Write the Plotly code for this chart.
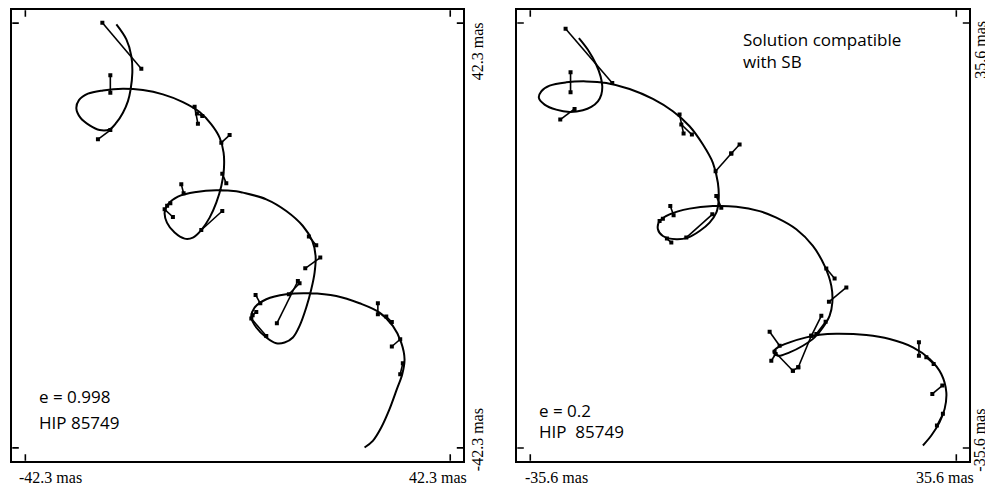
import plotly.graph_objects as go

# ---------------- data (mas) ----------------
tick_left = [-42.3, 42.3]
tick_right = [-35.6, 35.6]

# left panel: e = 0.998 orbit
left_orbit_x = [-24.18, -22.19, -21.20, -21.00, -21.34, -21.87, -22.87, -24.18, -25.52, -27.51,
                -29.50, -31.35, -32.14, -31.63, -29.84, -26.85, -22.87, -18.89, -14.91, -10.93,
                -7.60, -5.27, -3.62, -2.83, -2.77, -3.28, -4.28, -5.61, -7.27, -8.94,
                -10.59, -12.58, -14.11, -14.57, -13.91, -11.92, -8.26, -4.28, -0.30, 1.02,
                5.67, 9.65, 12.96, 14.83, 15.49, 15.29, 14.63, 13.63, 12.30, 10.97,
                9.32, 7.66, 5.67, 3.68, 2.69, 3.34, 5.67, 9.65, 14.29, 19.61,
                24.24, 28.22, 30.87, 32.54, 33.20, 32.74, 31.67, 30.21, 28.56, 26.89, 25.24]
left_orbit_y = [42.04, 39.05, 35.73, 32.42, 29.10, 26.77, 24.46, 22.47, 21.14, 21.00,
                21.93, 23.47, 25.26, 26.97, 28.24, 28.90, 29.24, 28.96, 28.10, 26.57,
                24.58, 22.13, 19.49, 16.50, 13.18, 9.85, 6.55, 3.56, 1.09, -0.42,
                -0.62, 0.58, 2.57, 4.56, 6.21, 7.74, 8.66, 9.00, 8.80, 8.54,
                7.21, 4.88, 1.89, -1.09, -4.08, -7.38, -10.71, -14.35, -18.01, -20.32,
                -21.32, -21.46, -20.32, -18.33, -16.34, -14.35, -12.70, -11.70, -11.50, -12.04,
                -13.50, -15.35, -18.01, -21.32, -24.64, -27.63, -30.61, -34.59, -38.24, -40.90, -42.22]

# left panel residual segments: start (x0, y0) -> end (x1, y1)
left_seg_x0 = [-26.97, -25.38, -27.85, -8.60, -8.14, -3.28, -3.09, -11.25, -14.57, -13.43,
               -7.27, 14.15, 13.43, 7.78, 10.17, 3.54, 2.69, 3.68, 27.89, 29.56, 30.67, 32.86]
left_seg_y0 = [42.38, 31.89, 19.15, 25.66, 24.32, 18.49, 12.32, 10.19, 5.21, 6.41,
               1.09, -0.22, -6.53, -17.48, -11.70, -11.84, -16.54, -15.23, -13.50, -16.14, -22.11, -25.44]
left_seg_x1 = [-19.21, -25.38, -25.38, -7.94, -7.07, -1.63, -2.29, -10.79, -12.92, -14.07,
               -3.09, 15.62, 16.42, 11.96, 12.30, 4.48, 5.67, 2.95, 27.89, 30.67, 32.34, 32.34]
left_seg_y1 = [33.22, 28.44, 21.00, 22.27, 23.79, 20.00, 10.39, 8.40, 3.68, 5.91,
               4.88, -1.95, -4.40, -9.06, -9.51, -13.50, -20.00, -15.88, -15.68, -17.22, -20.66, -27.63]

# right panel: e = 0.2 orbit
right_orbit_x = [-27.48, -25.97, -24.57, -23.85, -23.57, -23.73, -24.30, -25.41, -26.81, -29.03,
                 -31.26, -33.21, -34.16, -33.76, -32.37, -29.58, -26.24, -22.90, -19.00, -15.11,
                 -11.77, -8.98, -6.75, -5.08, -4.25, -4.13, -4.51, -5.63, -7.30, -9.26,
                 -11.20, -13.44, -14.27, -13.99, -12.32, -8.98, -5.08, -1.17, 2.72, 5.52,
                 8.86, 11.63, 13.59, 14.71, 14.88, 14.42, 13.30, 11.92, 9.96, 7.74,
                 5.78, 5.06, 5.78, 7.74, 10.53, 12.75, 15.54, 20.56, 24.45, 28.35,
                 31.14, 33.09, 33.93, 33.65, 32.81, 31.42, 30.02]
right_orbit_y = [33.08, 31.12, 28.61, 26.66, 24.99, 23.60, 22.48, 21.54, 20.98, 20.71,
                 21.09, 21.93, 23.05, 24.15, 25.10, 25.66, 25.82, 25.56, 24.55, 22.88,
                 20.81, 18.30, 15.24, 12.18, 8.84, 5.77, 3.83, 2.16, 0.75, -0.35,
                 -0.64, -0.08, 1.04, 2.42, 3.54, 4.50, 4.93, 4.83, 4.09, 2.99,
                 1.04, -1.75, -5.10, -8.44, -11.22, -13.45, -15.39, -17.07, -18.47, -19.57,
                 -20.14, -19.47, -18.74, -17.90, -17.07, -16.63, -16.46, -16.68, -17.35, -18.74,
                 -20.69, -23.20, -26.26, -29.05, -31.27, -33.51, -35.18]

right_seg_x0 = [-29.70, -28.87, -30.59, -10.65, -10.36, -4.63, -2.01, -4.51, -12.20, -12.77,
                -13.44, -9.53, 13.87, 14.31, 11.37, 12.20, 4.40, 5.23, 4.68, 8.29,
                9.19, 29.35, 30.59, 31.59, 33.36]
right_seg_y0 = [34.63, 27.33, 19.42, 20.26, 18.59, 10.78, 13.74, 6.60, 4.93, -0.52,
                2.82, -0.35, -5.53, -11.11, -16.80, -16.51, -16.13, -19.47, -20.98, -22.65,
                -22.08, -17.90, -20.41, -26.54, -29.88]
right_seg_x1 = [-21.90, -28.87, -28.20, -9.98, -8.59, -2.01, -0.62, -3.68, -11.65, -12.03,
                -13.99, -5.18, 15.26, 17.22, 13.04, 13.76, 6.07, 8.29, 5.40, 9.19,
                11.37, 29.35, 31.81, 33.26, 32.36]
right_seg_y1 = [25.56, 23.98, 21.21, 17.08, 16.91, 13.74, 15.24, 4.66, 3.38, -1.19,
                2.42, 3.54, -7.20, -8.71, -13.45, -14.46, -18.47, -22.65, -19.86, -22.08,
                -16.80, -20.14, -21.53, -25.15, -31.84]

left_notes = ["e = 0.998", "HIP 85749"]
right_notes = ["e = 0.2", "HIP\u00a0 85749"]
right_title = ["Solution compatible", "with SB"]

# ---------------- figure ----------------
# the page body adds an 8px offset; the figure covers the window from (8, 8)
OFF = 8
W, H = 993 - OFF, 489 - OFF


def px_x(p):
    return (p - OFF) / W


def px_y(p):
    return 1 - (p - OFF) / H


fig = go.Figure()


def seg_xy(x0, y0, x1, y1):
    xs, ys = [], []
    for a, b, c, d in zip(x0, y0, x1, y1):
        xs += [a, c, None]
        ys += [b, d, None]
    return xs, ys


for orbit_x, orbit_y, sx0, sy0, sx1, sy1, xa, ya in [
    (left_orbit_x, left_orbit_y, left_seg_x0, left_seg_y0, left_seg_x1, left_seg_y1, "x", "y"),
    (right_orbit_x, right_orbit_y, right_seg_x0, right_seg_y0, right_seg_x1, right_seg_y1, "x2", "y2"),
]:
    fig.add_trace(go.Scatter(x=orbit_x, y=orbit_y, mode="lines",
                             line=dict(color="black", width=2.0, shape="spline", smoothing=1.0),
                             xaxis=xa, yaxis=ya, hoverinfo="skip", showlegend=False))
    sx, sy = seg_xy(sx0, sy0, sx1, sy1)
    fig.add_trace(go.Scatter(x=sx, y=sy, mode="lines+markers",
                             line=dict(color="black", width=1.6),
                             marker=dict(symbol="square", size=4, color="black"),
                             xaxis=xa, yaxis=ya, hoverinfo="skip", showlegend=False))

ydom = [px_y(460.7), px_y(10.3)]
lim_l_x, lim_l_y = 44.9, 44.85
lim_r_x, lim_r_y = 37.77, 37.73

ax_common = dict(showline=True, mirror=True, linecolor="black", linewidth=1.6,
                 showgrid=False, zeroline=False, showticklabels=False, ticks="", fixedrange=True)

fig.update_layout(
    width=W, height=H,
    margin=dict(l=0, r=0, t=0, b=0),
    paper_bgcolor="white", plot_bgcolor="white",
    xaxis=dict(domain=[px_x(12.3), px_x(463.3)], range=[-lim_l_x, lim_l_x], anchor="y", **ax_common),
    yaxis=dict(domain=ydom, range=[-lim_l_y, lim_l_y], anchor="x", **ax_common),
    xaxis2=dict(domain=[px_x(517.3), px_x(969.3)], range=[-lim_r_x, lim_r_x], anchor="y2", **ax_common),
    yaxis2=dict(domain=ydom, range=[-lim_r_y, lim_r_y], anchor="x2", **ax_common),
)

# crossing ticks on all four sides
shapes = []
for ticks, xr, yr in [(tick_left, "x", "y"), (tick_right, "x2", "y2")]:
    lim_x = lim_l_x if xr == "x" else lim_r_x
    lim_y = lim_l_y if yr == "y" else lim_r_y
    for t in ticks:
        for edge in (-lim_y, lim_y):
            shapes.append(dict(type="line", xref=xr, yref=yr, x0=t, x1=t,
                               ysizemode="pixel", yanchor=edge, y0=-6.5, y1=6.5,
                               line=dict(color="black", width=1.6)))
        for edge in (-lim_x, lim_x):
            shapes.append(dict(type="line", xref=xr, yref=yr, y0=t, y1=t,
                               xsizemode="pixel", xanchor=edge, x0=-6.5, x1=6.5,
                               line=dict(color="black", width=1.6)))
fig.update_layout(shapes=shapes)

serif = dict(family="Liberation Serif, Times New Roman, serif", size=16, color="black")
sans = dict(family="Open Sans, Noto Sans, sans-serif", size=17, color="black")

ann = []
# x tick labels
for txt, px, anchor in [(f"{tick_left[0]} mas", 18, "left"), (f"{tick_left[1]} mas", 468, "right"),
                        (f"{tick_right[0]} mas", 524.3, "left"), (f"{tick_right[1]} mas", 975, "right")]:
    ann.append(dict(text=txt, x=px_x(px), y=px_y(477.3), xref="paper", yref="paper",
                    xanchor=anchor, yanchor="middle", showarrow=False, font=serif, borderpad=0))
# y tick labels (rotated)
for txt, px, py in [(f"{tick_left[1]} mas", 478.3, 50.9), (f"{tick_left[0]} mas", 478.3, 439.9),
                    (f"{tick_right[1]} mas", 979.8, 50.0), (f"{tick_right[0]} mas", 979.8, 439.9)]:
    ann.append(dict(text=txt, x=px_x(px), y=px_y(py), xref="paper", yref="paper", textangle=-90,
                    xanchor="center", yanchor="middle", showarrow=False, font=serif, borderpad=0))
# inset notes
for lines, px, pys in [(left_notes, 38.3, [396.7, 422.7]), (right_notes, 537.7, [410.0, 431.7]),
                       (right_title, 742.3, [39.3, 61.7])]:
    for txt, py in zip(lines, pys):
        ann.append(dict(text=txt, x=px_x(px), y=px_y(py), xref="paper", yref="paper",
                        xanchor="left", yanchor="middle", showarrow=False, font=sans, borderpad=0))
fig.update_layout(annotations=ann)

fig.write_html("out.html")
